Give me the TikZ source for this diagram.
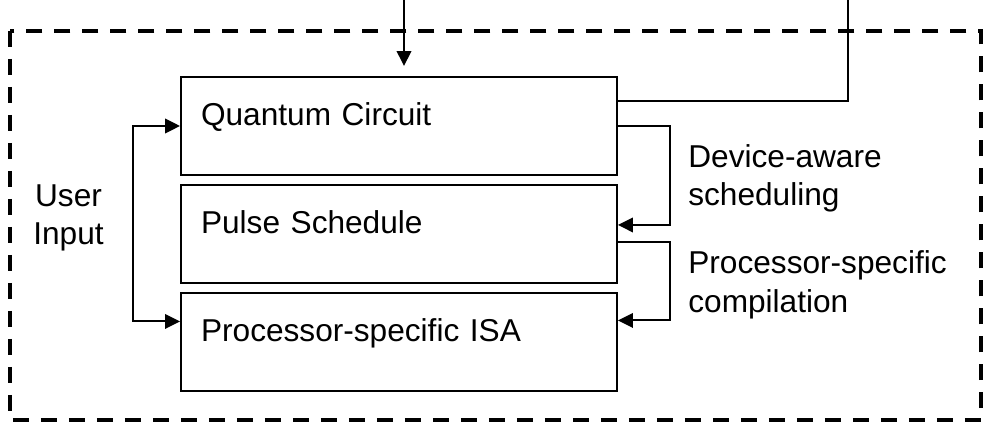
\documentclass[tikz,border=0pt]{standalone}
\usepackage{fontspec}
\setmainfont{Liberation Sans}
\usetikzlibrary{arrows.meta, positioning}

\begin{document}
\begin{tikzpicture}[
    x=0.02cm, y=-0.02cm,              % one unit = one pixel of the sketch
    font=\fontsize{18}{21.8}\selectfont,
    layer/.style={rectangle, draw, line width=0.04cm,
                  minimum width=8.72cm, minimum height=1.96cm,
                  text width=7.92cm, align=left,
                  inner xsep=0.4cm, inner ysep=0pt,
                  text height=0.45cm, text depth=0.45cm},
    note/.style={inner sep=0pt, align=left},
    frame/.style={line width=0.07cm, dash pattern=on 0.32cm off 0.24cm},
    link/.style={line width=0.04cm},
    arrow/.style={-{Triangle[length=0.3cm, width=0.29cm]}, line width=0.04cm},
    twoway/.style={{Triangle[length=0.3cm, width=0.29cm]}-{Triangle[length=0.3cm, width=0.29cm]},
                   line width=0.04cm}
]
\useasboundingbox (0,0) rectangle (984,425);

\draw [frame] (10,31) rectangle (981,420);

\node (qc)    [layer]                       at (399,126) {Quantum Circuit};
\node (pulse) [layer, below=0.16cm of qc]                {Pulse Schedule};
\node (isa)   [layer, below=0.16cm of pulse]             {Processor-specific ISA};

\node (user)  [note, align=center]          at (68.5,218) {User\\Input};
\node (sched) [note, anchor=west]           at (688,178.3) {Device-aware\\scheduling};
\node (comp)  [note, anchor=west]           at (688,284.7) {Processor-specific\\compilation};

\coordinate (in)  at (404,0);
\coordinate (out) at (848,0);
\coordinate (bus) at (133,0);

\draw [arrow]  (in) -- ([yshift=0.2cm]in |- qc.north);
\draw [link]   ([yshift=0.5cm]qc.east) -| (out);
\draw [arrow]  (qc.east) -- ++(52,0) |- ([yshift=0.18cm]pulse.east);
\draw [arrow]  ([yshift=-0.16cm]pulse.east) -- ++(52,0) |- ([yshift=0.43cm]isa.east);
\draw [twoway] (qc.west) -- (qc.west -| bus)
               -- ([yshift=0.41cm]isa.west -| bus) -- ([yshift=0.41cm]isa.west);
\end{tikzpicture}
\end{document}
